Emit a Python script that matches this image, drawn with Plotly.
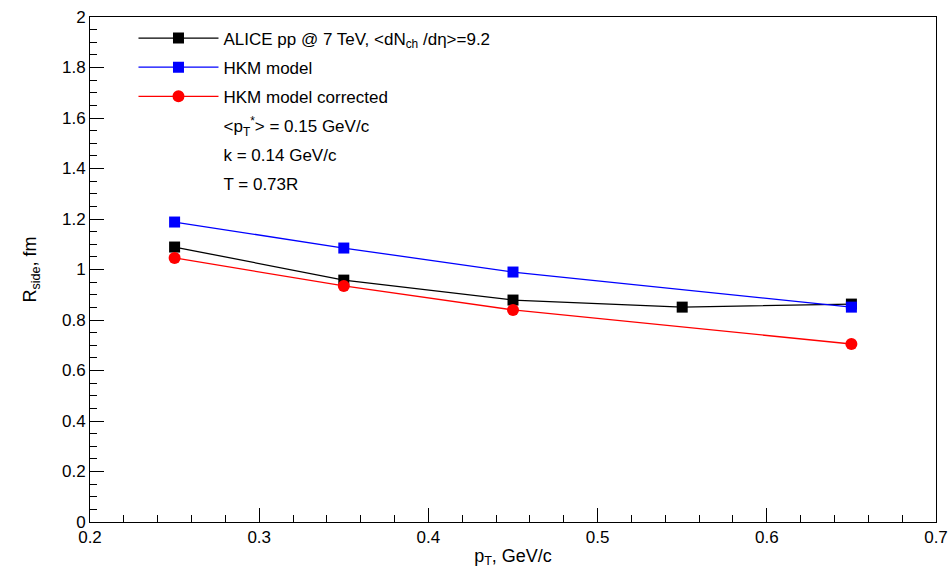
import plotly.graph_objects as go

pt_alice = [0.25, 0.35, 0.45, 0.55, 0.65]
r_alice = [1.089, 0.958, 0.879, 0.851, 0.863]
pt_hkm = [0.25, 0.35, 0.45, 0.65]
r_hkm = [1.188, 1.085, 0.990, 0.851]
pt_corr = [0.25, 0.35, 0.45, 0.65]
r_corr = [1.046, 0.935, 0.840, 0.705]

extra_lines = ["&lt;p<sub>T</sub><sup>*</sup>&gt; = 0.15 GeV/c", "k = 0.14 GeV/c", "T = 0.73R"]

FONT = "Liberation Sans, Arial, sans-serif"

fig = go.Figure()
fig.add_trace(go.Scatter(x=pt_alice, y=r_alice, mode="lines+markers",
                         name="ALICE pp @ 7 TeV, &lt;dN<sub>ch</sub> /dη&gt;=9.2",
                         line=dict(color="black", width=1.3),
                         marker=dict(symbol="square", size=11, color="black"),
                         legendgroup="a"))
fig.add_trace(go.Scatter(x=pt_hkm, y=r_hkm, mode="lines+markers", name="HKM model",
                         line=dict(color="blue", width=1.3),
                         marker=dict(symbol="square", size=11, color="blue"),
                         legendgroup="b"))
fig.add_trace(go.Scatter(x=pt_corr, y=r_corr, mode="lines+markers", name="HKM model corrected",
                         line=dict(color="red", width=1.3),
                         marker=dict(symbol="circle", size=12, color="red"),
                         legendgroup="c"))
for i, t in enumerate(extra_lines):
    fig.add_trace(go.Scatter(x=[None], y=[None], mode="lines", name=t,
                             line=dict(color="rgba(0,0,0,0)", width=1),
                             legendgroup="e%d" % i))

axis_common = dict(showgrid=False, zeroline=False, showline=True, linecolor="black",
                   linewidth=1, mirror=True, ticks="inside", ticklen=14, tickcolor="black",
                   automargin=False,
                   tickfont=dict(family=FONT, size=17, color="black"))

fig.update_xaxes(range=[0.2, 0.7], dtick=0.1, tick0=0.2,
                 minor=dict(ticks="inside", ticklen=7, dtick=0.02, tickcolor="black"),
                 title=dict(text="p<sub>T</sub>, GeV/c", font=dict(family=FONT, size=18, color="black"),
                            standoff=2),
                 **axis_common)
fig.update_yaxes(range=[0, 2], dtick=0.2, tickformat="~g",
                 minor=dict(ticks="inside", ticklen=7, dtick=0.05, tickcolor="black"),
                 title=dict(text="R<sub>side</sub>, fm", font=dict(family=FONT, size=18, color="black"),
                            standoff=20),
                 **axis_common)

fig.update_layout(
    width=948, height=572,
    margin=dict(l=90, r=12, t=17, b=50),
    plot_bgcolor="white", paper_bgcolor="white",
    font=dict(family=FONT, color="black"),
    legend=dict(x=0.0514, y=0.993, xanchor="left", yanchor="top",
                bgcolor="rgba(255,255,255,0)", borderwidth=0,
                font=dict(family=FONT, size=17, color="black"),
                tracegroupgap=4, itemwidth=80),
)

fig.write_html("out.html")
